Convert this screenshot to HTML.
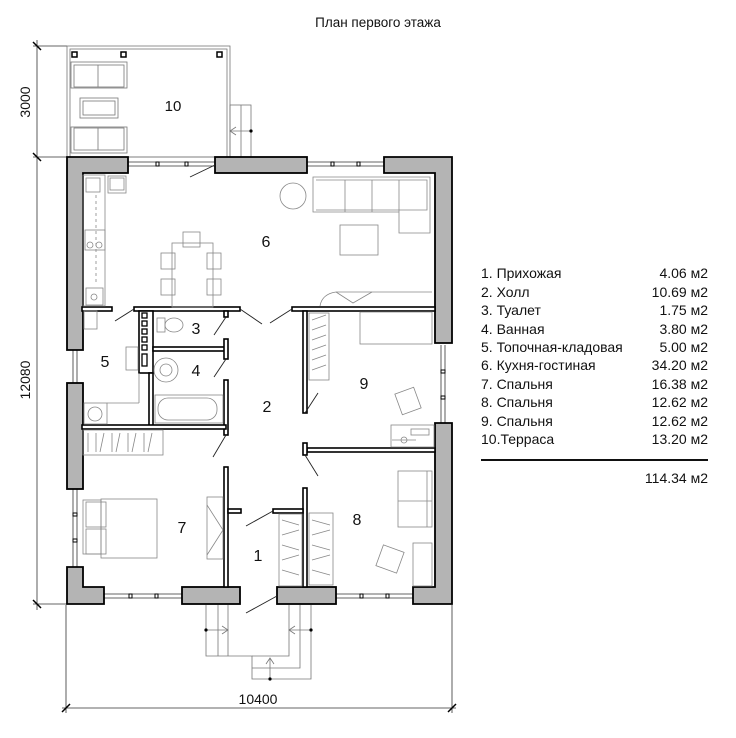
<!DOCTYPE html>
<html><head><meta charset="utf-8"><style>
html,body{margin:0;padding:0;background:#fff}
svg{display:block}
text{font-family:"Liberation Sans",sans-serif;fill:#111}
</style></head><body>
<svg width="736" height="738" viewBox="0 0 736 738" xmlns="http://www.w3.org/2000/svg">
<rect width="736" height="738" fill="#fff"/>
<text x="378" y="27" font-size="13.5" text-anchor="middle">План первого этажа</text>

<!-- dimensions -->
<g stroke="#333" stroke-width="0.8" fill="none">
<line x1="37" y1="40" x2="37" y2="610"/>
<line x1="33" y1="46" x2="67" y2="46"/>
<line x1="33" y1="157" x2="67" y2="157"/>
<line x1="33" y1="604" x2="67" y2="604"/>
<line x1="62" y1="708" x2="456" y2="708"/>
<line x1="66" y1="605" x2="66" y2="713"/>
<line x1="452" y1="605" x2="452" y2="713"/>
</g>
<g stroke="#000" stroke-width="1.5">
<line x1="33" y1="42" x2="41" y2="50"/><line x1="33" y1="153" x2="41" y2="161"/><line x1="33" y1="600" x2="41" y2="608"/>
<line x1="62" y1="712" x2="70" y2="704"/><line x1="448" y1="712" x2="456" y2="704"/>
</g>
<text x="26" y="102" font-size="14" text-anchor="middle" transform="rotate(-90 26 102)" dy="4">3000</text>
<text x="26" y="380" font-size="14" text-anchor="middle" transform="rotate(-90 26 380)" dy="4">12080</text>
<text x="258" y="704" font-size="14" text-anchor="middle">10400</text>

<!-- terrace -->
<g stroke="#777" stroke-width="0.8" fill="none">
<rect x="67" y="46" width="163" height="111"/>
<rect x="70" y="49" width="157" height="108"/>
<rect x="71" y="62" width="56" height="26"/><rect x="74" y="65" width="50" height="22"/><line x1="98" y1="65" x2="98" y2="87"/>
<rect x="71" y="127" width="56" height="26"/><rect x="74" y="128" width="50" height="22"/><line x1="98" y1="128" x2="98" y2="150"/>
<rect x="80" y="98" width="38" height="20"/><rect x="83" y="101" width="32" height="14"/>
<rect x="230" y="105" width="21" height="52"/><line x1="241" y1="105" x2="241" y2="157"/>
<line x1="230" y1="131" x2="251" y2="131"/><path d="M236 127 L230 131 L236 135"/>
</g>
<circle cx="251" cy="131" r="1.6" fill="#000"/>
<g fill="#fff" stroke="#000" stroke-width="1.5">
<rect x="72" y="52" width="5" height="5"/><rect x="121" y="52" width="5" height="5"/><rect x="217" y="52" width="5" height="5"/>
</g>
<text x="173" y="111" font-size="15" text-anchor="middle">10</text>

<!-- windows -->
<g stroke="#333" stroke-width="0.8" fill="none">
<line x1="128" y1="162" x2="215" y2="162"/><line x1="128" y1="166" x2="215" y2="166"/>
<line x1="307" y1="162" x2="384" y2="162"/><line x1="307" y1="166" x2="384" y2="166"/>
<line x1="73" y1="350" x2="73" y2="383"/><line x1="77" y1="350" x2="77" y2="383"/>
<line x1="73" y1="489" x2="73" y2="567"/><line x1="77" y1="489" x2="77" y2="567"/>
<line x1="104" y1="594" x2="182" y2="594"/><line x1="104" y1="598" x2="182" y2="598"/>
<line x1="336" y1="594" x2="413" y2="594"/><line x1="336" y1="598" x2="413" y2="598"/>
<line x1="441" y1="345" x2="441" y2="423"/><line x1="445" y1="345" x2="445" y2="423"/>
</g>
<g fill="#fff" stroke="#000" stroke-width="1">
<rect x="156" y="162" width="3" height="4"/><rect x="185" y="162" width="3" height="4"/>
<rect x="331" y="162" width="3" height="4"/><rect x="357" y="162" width="3" height="4"/>
<rect x="129" y="594" width="3" height="4"/><rect x="155" y="594" width="3" height="4"/>
<rect x="360" y="594" width="3" height="4"/><rect x="386" y="594" width="3" height="4"/>
<rect x="441" y="370" width="4" height="3"/><rect x="441" y="396" width="4" height="3"/>
<rect x="73" y="513" width="4" height="3"/><rect x="73" y="539" width="4" height="3"/>
</g>

<!-- outer walls -->
<g fill="#b4b4b4" stroke="#000" stroke-width="1.8">
<path d="M67 157 H128 V173 H83 V350 H67 Z"/>
<rect x="215" y="157" width="92" height="16"/>
<path d="M384 157 H452 V343 H435 V173 H384 Z"/>
<rect x="67" y="383" width="16" height="106"/>
<path d="M67 567 H83 V587 H104 V604 H67 Z"/>
<rect x="182" y="587" width="58" height="17"/>
<rect x="277" y="587" width="59" height="17"/>
<path d="M435 423 H452 V604 H413 V587 H435 Z"/>
</g>

<!-- interior walls -->
<g fill="#fff" stroke="#000" stroke-width="1.6">
<rect x="82" y="307" width="30" height="4"/>
<rect x="134" y="307" width="106" height="4"/>
<rect x="292" y="307" width="143" height="4"/>
<rect x="139" y="311" width="14" height="62"/>
<rect x="149" y="373" width="4" height="54"/>
<rect x="153" y="347" width="73" height="4"/>
<rect x="224" y="339" width="4" height="20"/>
<rect x="224" y="311" width="4" height="6"/>
<rect x="224" y="380" width="4" height="55"/>
<rect x="82" y="425" width="144" height="4"/>
<rect x="303" y="311" width="4" height="102"/>
<rect x="307" y="448" width="128" height="4"/>
<rect x="303" y="443" width="4" height="12"/>
<rect x="224" y="467" width="4" height="120"/>
<rect x="228" y="509" width="13" height="4"/>
<rect x="303" y="488" width="4" height="99"/>
<rect x="273" y="509" width="30" height="4"/>
</g>
<g fill="#fff" stroke="#000" stroke-width="1.3">
<rect x="142" y="313" width="5" height="5"/><rect x="142" y="321" width="5" height="5"/><rect x="142" y="329" width="5" height="5"/>
<rect x="142" y="337" width="5" height="5"/><rect x="142" y="345" width="5" height="5"/><rect x="142" y="354" width="5" height="12"/>
</g>

<!-- door swings -->
<g stroke="#222" stroke-width="0.9" fill="none">
<line x1="215" y1="165" x2="190" y2="177"/>
<line x1="134" y1="309" x2="115" y2="321"/>
<line x1="240" y1="309" x2="262" y2="324"/>
<line x1="292" y1="309" x2="270" y2="323"/>
<line x1="226" y1="317" x2="214" y2="335"/>
<line x1="226" y1="359" x2="214" y2="377"/>
<line x1="226" y1="435" x2="213" y2="457"/>
<line x1="305" y1="413" x2="318" y2="393"/>
<line x1="305" y1="455" x2="318" y2="476"/>
<line x1="273" y1="511" x2="246" y2="526"/>
<line x1="277" y1="596" x2="246" y2="613"/>
</g>

<!-- entrance steps -->
<g stroke="#777" stroke-width="0.8" fill="none">
<path d="M206 605 V656 H252 V679 H311 V605"/>
<path d="M218 605 V656"/><path d="M228 605 V656"/>
<path d="M252 668 H300 V605"/><path d="M289 605 V656 H252"/>
<line x1="206" y1="630" x2="228" y2="630"/><path d="M222 626 L228 630 L222 634"/>
<line x1="289" y1="630" x2="311" y2="630"/><path d="M295 626 L289 630 L295 634"/>
<line x1="270" y1="679" x2="270" y2="658"/><path d="M266 664 L270 658 L274 664"/>
</g>
<circle cx="206" cy="630" r="1.6"/><circle cx="311" cy="630" r="1.6"/><circle cx="270" cy="679" r="1.6"/>

<!-- furniture -->
<g stroke="#888" stroke-width="0.8" fill="none">
<rect x="83" y="175" width="22" height="131"/>
<rect x="86" y="178" width="14" height="14"/>
<rect x="108" y="176" width="18" height="17"/><rect x="110" y="178" width="14" height="12"/>
<rect x="85" y="230" width="20" height="20"/><circle cx="90" cy="245" r="3"/><circle cx="99" cy="245" r="3"/>
<rect x="86" y="288" width="17" height="17"/><circle cx="94" cy="297" r="3"/>
<line x1="96" y1="195" x2="96" y2="285" stroke-dasharray="3,3"/>
<circle cx="293" cy="196" r="13"/>
<path d="M313 177 H430 V233 H399 V212 H313 Z"/>
<path d="M316 180 H427 V210 H316"/>
<line x1="345" y1="180" x2="345" y2="212"/><line x1="372" y1="180" x2="372" y2="212"/><line x1="399" y1="180" x2="399" y2="212"/>
<rect x="340" y="225" width="38" height="30"/>
<rect x="172" y="243" width="41" height="64"/>
<rect x="183" y="232" width="17" height="15"/>
<rect x="161" y="253" width="14" height="16"/><rect x="161" y="279" width="14" height="16"/>
<rect x="207" y="253" width="14" height="16"/><rect x="207" y="279" width="14" height="16"/>
<path d="M320 306 Q322 294 336 292 H432"/><path d="M336 292 L353 303 L372 292"/>
<rect x="360" y="312" width="72" height="32"/>
<rect x="309" y="313" width="20" height="67"/>
<path d="M312 320 L326 315 M312 330 L326 325 M312 340 L326 335 M312 350 L326 345 M312 360 L326 355 M312 370 L326 365"/>
<rect x="391" y="425" width="43" height="22"/>
<rect x="398" y="390" width="20" height="22" transform="rotate(-20 408 401)"/>
<rect x="411" y="429" width="18" height="6"/><line x1="392" y1="440" x2="416" y2="440"/><circle cx="404" cy="440" r="3"/>
<rect x="398" y="471" width="34" height="56"/><line x1="398" y1="501" x2="432" y2="501"/><line x1="427" y1="471" x2="427" y2="527"/>
<rect x="413" y="543" width="19" height="43"/>
<rect x="379" y="548" width="22" height="22" transform="rotate(20 390 559)"/>
<rect x="309" y="513" width="24" height="72"/>
<path d="M312 520 L330 525 M312 535 L330 530 M312 545 L330 550 M312 560 L330 555 M312 570 L330 575"/>
<rect x="279" y="514" width="23" height="72"/>
<path d="M282 520 L299 525 M282 535 L299 530 M282 545 L299 550 M282 560 L299 555 M282 570 L299 575"/>
<rect x="207" y="497" width="16" height="62"/><path d="M207 505 L223 530 L207 555"/>
<rect x="83" y="500" width="18" height="54"/>
<rect x="101" y="499" width="56" height="59"/>
<rect x="86" y="502" width="20" height="25"/><rect x="86" y="529" width="20" height="25"/>
<rect x="83" y="430" width="80" height="25"/>
<path d="M88 433 V452 M96 433 V452 M104 433 L100 452 M112 433 V452 M120 433 L116 452 M128 433 V452 M136 433 L132 452 M144 433 V452 M152 433 L148 452"/>
<rect x="84" y="311" width="13" height="18"/>
<rect x="126" y="347" width="12" height="23"/>
<rect x="84" y="403" width="23" height="21"/><circle cx="95" cy="414" r="7"/>
<line x1="139" y1="373" x2="139" y2="403"/><line x1="107" y1="403" x2="139" y2="403"/>
<rect x="157" y="318" width="8" height="14"/><ellipse cx="174" cy="325" rx="9" ry="7"/>
<circle cx="166" cy="370" r="12"/><circle cx="166" cy="370" r="6"/>
<rect x="155" y="395" width="68" height="28"/><rect x="158" y="398" width="59" height="22" rx="10"/>
</g>

<!-- room numbers -->
<g font-size="16" text-anchor="middle">
<text x="266" y="247">6</text>
<text x="196" y="334">3</text>
<text x="196" y="376">4</text>
<text x="105" y="367">5</text>
<text x="267" y="412">2</text>
<text x="364" y="389">9</text>
<text x="182" y="533">7</text>
<text x="258" y="561">1</text>
<text x="357" y="525">8</text>
</g>

<!-- legend -->
<g font-size="14">
<text x="481" y="278">1.  Прихожая</text>
<text x="481" y="297">2.  Холл</text>
<text x="481" y="315">3.  Туалет</text>
<text x="481" y="334">4.  Ванная</text>
<text x="481" y="352">5.  Топочная-кладовая</text>
<text x="481" y="370">6.  Кухня-гостиная</text>
<text x="481" y="389">7.  Спальня</text>
<text x="481" y="407">8.  Спальня</text>
<text x="481" y="426">9.  Спальня</text>
<text x="481" y="444">10.Терраса</text>
</g>
<g font-size="14" text-anchor="end">
<text x="708" y="278">4.06 м2</text>
<text x="708" y="297">10.69 м2</text>
<text x="708" y="315">1.75 м2</text>
<text x="708" y="334">3.80 м2</text>
<text x="708" y="352">5.00 м2</text>
<text x="708" y="370">34.20 м2</text>
<text x="708" y="389">16.38 м2</text>
<text x="708" y="407">12.62 м2</text>
<text x="708" y="426">12.62 м2</text>
<text x="708" y="444">13.20 м2</text>
<text x="708" y="483">114.34 м2</text>
</g>
<line x1="481" y1="460" x2="708" y2="460" stroke="#111" stroke-width="2"/>
</svg>
</body></html>
